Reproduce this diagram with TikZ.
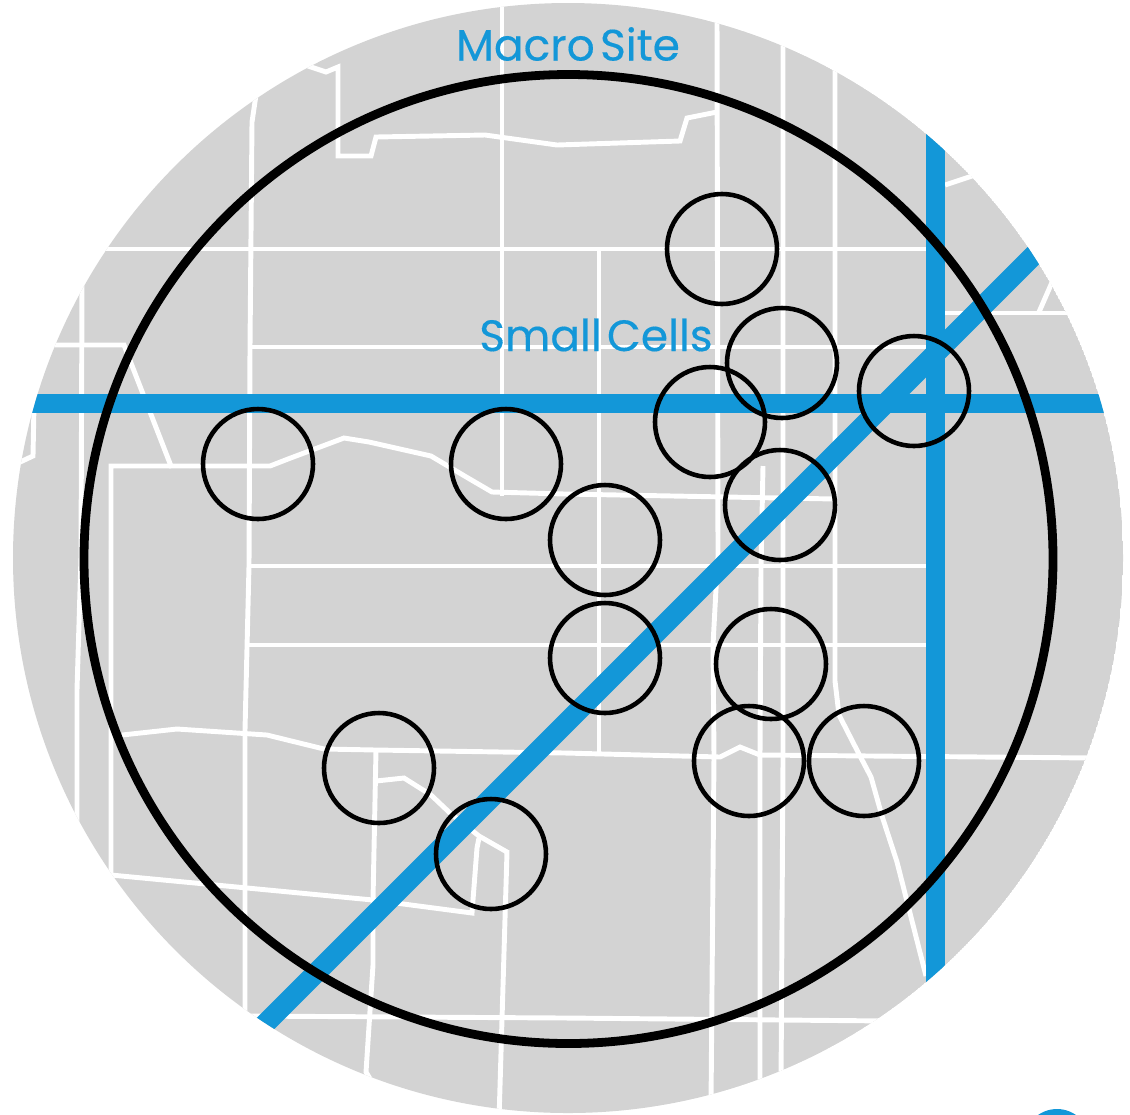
\documentclass[tikz,border=0pt]{standalone}
\usepackage{fontspec}
\setmainfont{Poppins}[FakeBold=0.3]
\usepackage{xcolor}
\definecolor{mapgray}{HTML}{D3D3D3}
\definecolor{routeblue}{HTML}{1397D8}
\begin{document}
\begin{tikzpicture}[x=0.01cm, y=-0.01cm,
  road/.style={white, line width=1.4pt},
  route/.style={routeblue, line width=5.4pt},
  cellring/.style={black, line width=1.3pt},
  label/.style={routeblue, font=\fontsize{12.5pt}{15pt}\selectfont\addfontfeature{FakeBold=0.3}, inner sep=0pt}]
\useasboundingbox (0,0) rectangle (1130,1114);
%--- Map disc ---
\begin{scope}
  \clip (568,558) circle (555);
  \fill[mapgray] (568,558) circle (555);
  % Straight streets
  \draw[road] (100,249) -- (935,249);
  \draw[road] (251,347) -- (935,347);
  \draw[road] (249,566) -- (935,566);
  \draw[road] (249,645) -- (935,645);
  \draw[road] (245,1016) -- (565,1018) -- (890,1021);
  \draw[road] (502,5) -- (502,496);
  \draw[road] (599,249) -- (599,753);
  \draw[road] (945,313) -- (1075,313);
  % Long north-south streets
  \draw[road] (256,95) -- (252,122) -- (250,347) -- (249,566) -- (245,730) -- (245,1025);
  \draw[road] (82,285) -- (81,557) -- (77,690) -- (77,830);
  \draw[road] (717,15) -- (718,557) -- (716,589) -- (713,645) -- (714,756) -- (711,1105);
  \draw[road] (783,40) -- (783,760) -- (781,1085);
  \draw[road] (763,466) -- (761,568) -- (760,756) -- (760,1090);
  \draw[road] (835,65) -- (835,681) -- (839,715) -- (860,756) -- (871,777) -- (882,816) -- (897,862) -- (926,976);
  % Winding streets
  \draw[road] (305,65) -- (326,72) -- (338,67) -- (338,156) -- (371,156) -- (376,137) -- (485,135) -- (557,145) -- (680,141) -- (687,118) -- (717,112);
  \draw[road] (50,345) -- (124,345) -- (171,466) -- (270,466) -- (288,459) -- (344,438) -- (369,442) -- (431,456) -- (468,478) -- (492,492) -- (565,494) -- (835,499);
  \draw[road] (171,466) -- (111,466) -- (111,875) -- (373,900) -- (472,913) -- (477,848) -- (479,838);
  \draw[road] (122,735) -- (177,729) -- (267,735) -- (324,749) -- (376,750) -- (565,753) -- (720,757) -- (740,747) -- (760,755) -- (1095,758);
  \draw[road] (376,750) -- (373,900) -- (373,965) -- (366,1072) -- (372,1082);
  \draw[road] (376,781) -- (404,778) -- (431,795) -- (450,813) -- (479,836) -- (507,852) -- (499,1120);
  \draw[road] (34,405) -- (33,456) -- (18,463);
  \draw[road] (945,185) -- (975,175);
  \draw[road] (1039,312) -- (1053,280);
  % Blue routes
  \draw[route] (20,403) -- (1120,403);
  \draw[route] (935,120) -- (935,1000);
  \draw[route, line width=5.8pt] (240,1049) -- (1060,229);
\end{scope}
%--- Macro cell ---
\draw[black, line width=2.5pt] (568.5,559) circle (484.5);
%--- Small cells ---
\foreach \cx/\cy in {722/249, 782/363, 710/422, 914/391, 780/505, 258/464, 506/464,
                     605/540, 605/658, 771/664, 749/761, 864/761, 379/768, 491/854}
  \draw[cellring] (\cx,\cy) circle (55);
% Labels
\node[label] (macrolabel) at (568,44) {Macro\hspace{0.12em}Site};
\node[label] (smalllabel) at (596,335) {Small\hspace{0.12em}Cells};
% Corner mark cut off by the page
\begin{scope}
  \clip (0,0) rectangle (1130,1114);
  \fill[routeblue] (1057,1142) circle (33);
\end{scope}
\end{tikzpicture}
\end{document}
